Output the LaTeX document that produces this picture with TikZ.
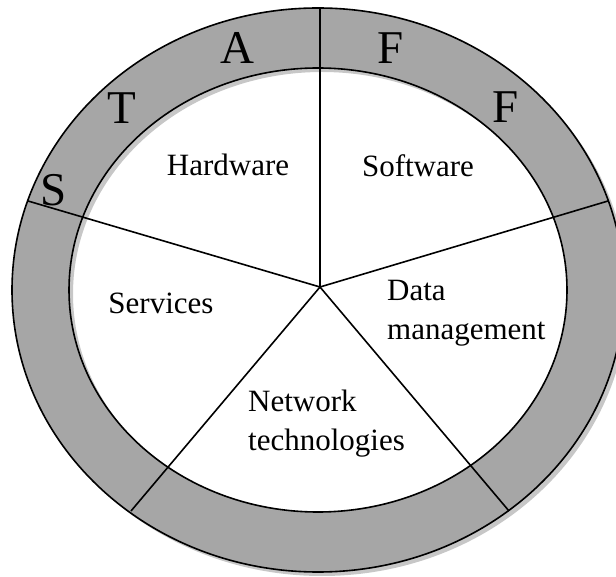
\documentclass[tikz,border=0pt]{standalone}
\usepackage{fontspec}
\setmainfont{Liberation Serif}
\tikzset{
	sector/.style = {inner sep=0pt, font=\fontsize{31}{39}\selectfont},
	multi/.style = {sector, align=left, anchor=north west},
	letter/.style = {inner sep=0pt, font=\fontsize{47}{47}\selectfont},
	ring/.style = {fill=black!35, draw=black, line width=1.6pt, even odd rule},
	ringshade/.style = {fill=black!22, even odd rule},
	spoke/.style = {draw=black, line width=1.6pt}
}

\begin{document}
\begin{tikzpicture}[x=1pt, y=1pt]
	\useasboundingbox (0,0) rectangle (616,576);
	\clip (0,0) rectangle (616,576);
	\coordinate (mid) at (318,286);
	\coordinate (mids) at (322,282);
	% the ring and its shadow
	\path [ringshade] (mids) ellipse [x radius=306, y radius=282]
		(mids) ellipse [x radius=249, y radius=222];
	\path [ring] (mid) ellipse [x radius=306, y radius=282]
		(mid) ellipse [x radius=249, y radius=222];
	% spokes
	\coordinate (hub) at (320,289);
	\coordinate (rim-n) at (320,568);
	\coordinate (rim-ne) at (608,375);
	\coordinate (rim-nw) at (28,375);
	\coordinate (rim-sw) at (131,65);
	\coordinate (rim-se) at (509,65);
	\foreach \r in {rim-n, rim-ne, rim-nw, rim-sw, rim-se}
		\draw [spoke] (hub) -- (\r);
	% sectors
	\node [sector, anchor=base] (hw) at (228,400) {Hardware};
	\node [sector, anchor=base] (sw) at (418,399) {Software};
	\node [sector, anchor=base] (sv) at (161,262) {Services};
	\node [multi] (dm) at (387,296) {Data\\management};
	\node [multi] (nt) at (248,186) {Network\\technologies};
	% staff
	\node [letter] (s) at (54,386) {S};
	\node [letter] (t) at (122,468) {T};
	\node [letter] (a) at (237,528) {A};
	\node [letter] (f1) at (391,528) {F};
	\node [letter] (f2) at (506,469) {F};
\end{tikzpicture}
\end{document}
